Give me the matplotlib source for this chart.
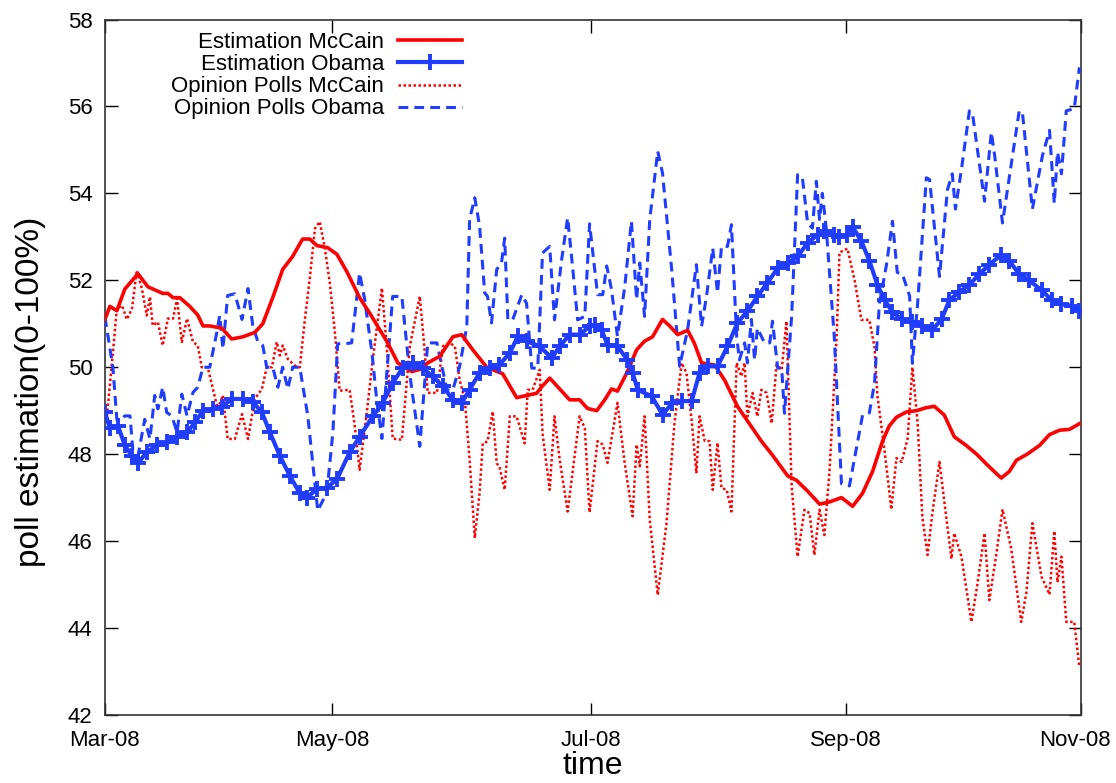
# poll estimation vs opinion polls, McCain / Obama 2008
import numpy as np
import matplotlib
matplotlib.use('Agg')
import matplotlib.pyplot as plt
from matplotlib.transforms import ScaledTranslation

plt.rcParams['font.family'] = ['Liberation Sans Narrow', 'Liberation Sans', 'DejaVu Sans']

# x values are days since 1 Mar 2008
est_mccain_day = [0, 1.25, 3.0, 5.0, 8.3, 10.8, 14.5, 15.8, 17.1, 18.8, 21.3, 23.3, 24.6, 26.3, 29.3,
                  31.8, 34.6, 37.6, 39.6, 42.1, 44.6, 47.1, 49.6, 51.4, 53.2, 55.9, 58.2, 60.7, 63.9,
                  66.4, 70.7, 73.5, 77.0, 79.0, 81.0, 84.0, 87.3, 89.5, 92.3, 95.8, 99.8, 103.3,
                  105.8, 108.3, 109.6, 111.6, 114.1, 116.6, 119.1, 121.1, 123.4, 125.4, 127.1, 128.6,
                  131.1, 133.4, 135.4, 137.4, 139.9, 141.7, 143.7, 146.2, 147.9, 149.7, 153.0, 155.5,
                  158.7, 161.7, 164.7, 167.3, 171.3, 173.5, 176.3, 179.3, 181.8, 184.8, 187.6, 190.1,
                  192.6, 195.1, 196.8, 198.6, 201.1, 203.6, 206.1, 208.1, 210.6, 213.1, 216.1, 218.7,
                  221.2, 223.7, 224.9, 226.9, 228.7, 231.4, 234.5, 237.0, 239.5, 242.0, 244.5]
est_mccain = [51.1, 51.4, 51.3, 51.8, 52.15, 51.85, 51.7, 51.7, 51.6, 51.6, 51.4, 51.2, 50.95, 50.95,
              50.9, 50.65, 50.7, 50.8, 51.0, 51.6, 52.25, 52.55, 52.95, 52.95, 52.8, 52.75, 52.6,
              52.2, 51.6, 51.25, 50.6, 50.1, 49.9, 49.95, 50.1, 50.25, 50.7, 50.75, 50.4, 50.0,
              49.85, 49.3, 49.35, 49.4, 49.55, 49.75, 49.5, 49.25, 49.25, 49.05, 49.0, 49.25, 49.5,
              49.45, 49.9, 50.4, 50.6, 50.7, 51.1, 50.95, 50.75, 50.85, 50.55, 50.1, 50.05, 49.7,
              49.1, 48.7, 48.3, 48.0, 47.5, 47.4, 47.15, 46.85, 46.9, 47.0, 46.8, 47.1, 47.6, 48.3,
              48.65, 48.85, 48.97, 49.0, 49.07, 49.1, 48.9, 48.4, 48.2, 48.0, 47.77, 47.55, 47.45,
              47.6, 47.86, 48.0, 48.2, 48.45, 48.55, 48.57, 48.7]

est_obama_day = [0, 1.25, 3.3, 5.0, 6.8, 8.3, 10.5, 13.0, 15.5, 18.1, 20.6, 22.6, 24.6, 27.1, 29.3,
                 31.8, 34.6, 37.1, 39.4, 41.4, 43.9, 46.4, 48.9, 50.7, 53.2, 55.7, 58.2, 61.4, 63.9,
                 67.2, 69.7, 72.2, 74.7, 77.2, 79.7, 82.2, 84.8, 87.3, 89.5, 91.5, 94.0, 96.5, 99.0,
                 101.6, 103.6, 105.8, 109.1, 112.1, 114.1, 116.6, 119.1, 121.6, 122.9, 124.6, 126.1,
                 128.6, 131.1, 132.4, 133.7, 137.2, 139.9, 142.4, 144.9, 147.2, 149.2, 151.2, 153.7,
                 156.2, 158.7, 161.2, 163.7, 166.2, 168.8, 171.3, 173.8, 176.3, 178.8, 180.5, 183.0,
                 184.3, 186.1, 187.6, 189.8, 191.8, 193.8, 195.6, 197.6, 199.9, 202.4, 205.1, 207.6,
                 209.9, 211.9, 214.4, 216.9, 219.4, 221.9, 224.9, 226.9, 229.4, 231.9, 235.0, 237.5,
                 240.0, 242.7, 244.5]
est_obama = [48.96, 48.6, 48.65, 48.2, 47.96, 47.8, 48.04, 48.2, 48.27, 48.4, 48.5, 48.73, 49.0,
             49.04, 49.08, 49.27, 49.27, 49.2, 48.96, 48.5, 47.96, 47.5, 47.1, 47.0, 47.2, 47.23,
             47.42, 48.04, 48.4, 48.87, 49.18, 49.64, 49.98, 50.1, 49.98, 49.79, 49.56, 49.25,
             49.18, 49.48, 49.87, 49.98, 50.06, 50.33, 50.71, 50.6, 50.48, 50.21, 50.48, 50.75,
             50.75, 50.94, 50.98, 50.86, 50.52, 50.48, 50.17, 49.87, 49.48, 49.33, 48.91, 49.18,
             49.22, 49.22, 49.87, 50.02, 50.02, 50.48, 51.02, 51.29, 51.63, 51.94, 52.28, 52.4,
             52.55, 52.86, 53.05, 53.13, 53.05, 53.0, 53.05, 53.23, 52.9, 52.45, 51.9, 51.55,
             51.27, 51.1, 51.05, 50.95, 50.86, 51.1, 51.55, 51.73, 51.9, 52.14, 52.36, 52.59,
             52.45, 52.14, 52.0, 51.77, 51.55, 51.45, 51.41, 51.29]

poll_mccain_day = [0.5, 1.8, 3.0, 4.3, 5.5, 6.8, 8.0, 9.3, 10.5, 11.3, 12.0, 13.3, 14.5, 15.8, 17.1,
                   18.1, 19.3, 20.6, 22.1, 23.3, 24.3, 25.8, 27.1, 28.3, 29.6, 30.8, 32.6, 34.4,
                   35.9, 37.6, 39.4, 40.6, 41.9, 43.1, 43.9, 44.6, 45.9, 47.6, 48.9, 50.2, 51.4,
                   52.7, 53.9, 55.2, 56.4, 57.7, 58.9, 61.4, 62.7, 63.9, 65.7, 67.2, 69.5, 70.7,
                   72.2, 74.5, 76.5, 79.0, 80.2, 81.0, 83.3, 84.8, 86.5, 87.8, 89.0, 90.3, 91.5,
                   92.8, 94.0, 94.8, 96.0, 97.3, 98.3, 99.0, 100.3, 101.6, 103.3, 105.3, 106.1,
                   107.3, 109.1, 109.8, 111.6, 112.8, 114.1, 116.1, 119.1, 120.4, 121.6, 123.6,
                   124.9, 126.1, 128.6, 130.4, 132.4, 133.4, 134.2, 135.4, 136.7, 138.7, 140.9,
                   142.9, 144.7, 145.9, 147.2, 148.4, 149.2, 150.5, 151.7, 152.5, 153.7, 154.7,
                   156.0, 157.2, 158.5, 159.7, 160.5, 161.2, 162.5, 163.7, 164.7, 166.0, 167.3,
                   168.5, 169.8, 171.0, 172.3, 173.8, 175.5, 176.8, 178.0, 179.3, 180.5, 181.8,
                   183.6, 184.3, 186.3, 188.1, 189.8, 191.8, 193.1, 193.8, 195.6, 197.3, 198.6,
                   199.9, 201.4, 202.6, 203.9, 205.1, 206.4, 207.6, 209.4, 210.6, 212.4, 213.1,
                   214.9, 217.4, 218.9, 220.7, 221.9, 223.7, 225.2, 227.4, 229.9, 231.2, 232.7,
                   235.0, 237.0, 238.2, 239.0, 240.0, 241.2, 243.2, 244.5]
poll_mccain = [48.88, 50.12, 51.35, 51.42, 51.1, 51.35, 52.23, 51.8, 51.19, 51.62, 50.96, 51.04,
               50.5, 51.12, 51.12, 51.58, 50.58, 51.12, 50.58, 50.5, 50.0, 50.0, 49.5, 49.04,
               49.35, 48.35, 48.35, 48.92, 48.35, 49.27, 49.5, 50.0, 50.0, 50.58, 50.27, 50.5,
               50.19, 50.04, 50.0, 51.12, 52.04, 53.19, 53.35, 52.73, 51.96, 50.81, 49.46, 49.48,
               48.64, 47.64, 48.95, 50.17, 51.82, 50.48, 48.36, 48.33, 50.48, 51.63, 50.41, 49.41,
               49.41, 50.48, 50.56, 50.48, 49.71, 49.25, 47.87, 46.07, 47.1, 48.25, 48.29, 48.98,
               47.79, 47.71, 47.18, 48.87, 48.87, 48.25, 49.48, 49.48, 49.94, 48.48, 47.18, 48.87,
               47.87, 46.68, 48.87, 48.6, 46.66, 48.3, 48.22, 47.8, 49.18, 47.8, 46.57, 48.22,
               47.72, 48.87, 46.49, 44.76, 46.41, 48.71, 50.1, 49.87, 48.79, 47.56, 48.87, 48.3,
               48.3, 47.18, 48.26, 47.22, 47.18, 46.68, 50.1, 49.79, 50.1, 48.87, 49.41, 48.87,
               49.48, 49.41, 48.71, 50.06, 49.94, 51.06, 47.26, 45.64, 46.72, 46.64, 45.68, 46.72,
               46.14, 47.6, 50.73, 52.64, 52.73, 52.0, 51.09, 51.09, 50.45, 49.36, 48.09, 46.73,
               47.91, 47.82, 48.36, 50.0, 48.73, 46.55, 45.68, 46.64, 47.82, 46.91, 45.59, 46.18,
               45.64, 44.14, 45.0, 46.18, 44.64, 45.73, 46.73, 45.82, 44.14, 44.82, 46.41, 45.18,
               44.77, 46.23, 45.05, 45.64, 44.14, 44.14, 43.09]

poll_obama_day = [0, 0.75, 2.0, 3.0, 3.8, 5.0, 6.3, 7.0, 8.3, 10.0, 11.3, 12.5, 13.3, 14.5, 15.5,
                  16.8, 18.1, 19.3, 20.6, 22.1, 23.3, 24.6, 26.3, 28.1, 28.8, 29.6, 30.8, 32.6,
                  34.4, 35.9, 37.1, 38.4, 39.6, 40.6, 42.1, 43.4, 44.6, 45.9, 47.1, 48.9, 50.9,
                  53.4, 55.7, 57.2, 58.4, 60.2, 61.9, 63.9, 65.2, 67.0, 68.2, 69.5, 70.7, 72.2,
                  74.5, 76.5, 79.0, 81.0, 83.3, 85.8, 87.3, 89.0, 90.8, 91.5, 92.8, 94.0, 95.3,
                  96.0, 97.0, 98.3, 99.5, 100.3, 101.1, 102.3, 104.6, 105.8, 107.1, 108.6, 109.8,
                  111.6, 112.8, 114.6, 116.1, 117.4, 118.6, 120.4, 121.6, 123.6, 124.9, 125.9,
                  127.1, 128.6, 130.4, 132.1, 133.4, 134.2, 135.4, 136.7, 138.7, 139.9, 142.2,
                  144.2, 146.2, 148.4, 149.7, 151.0, 152.5, 153.7, 154.7, 156.2, 157.2, 158.5,
                  159.2, 160.5, 161.2, 162.2, 163.0, 163.7, 165.5, 166.8, 167.5, 168.8, 169.8,
                  170.5, 172.3, 173.8, 175.0, 176.3, 177.5, 178.5, 179.3, 180.0, 181.0, 183.0,
                  184.8, 186.8, 190.1, 191.8, 193.1, 194.3, 196.1, 197.6, 198.8, 200.1, 201.9,
                  202.6, 203.9, 206.1, 206.9, 209.4, 211.4, 212.6, 213.4, 214.9, 216.9, 217.7,
                  220.7, 222.4, 223.2, 225.2, 229.4, 230.2, 232.7, 235.2, 237.0, 238.2, 239.0,
                  240.0, 241.2, 243.2, 244.5]
poll_obama = [51.15, 50.73, 50.0, 48.8, 48.77, 48.88, 48.88, 48.1, 47.96, 48.8, 48.35, 49.35,
              49.04, 49.54, 48.96, 48.88, 48.5, 49.38, 48.88, 49.42, 49.54, 50.0, 50.0, 50.81,
              51.19, 50.42, 51.65, 51.69, 51.1, 51.81, 50.96, 50.58, 50.5, 50.0, 50.0, 49.54,
              50.0, 49.5, 50.0, 50.0, 48.88, 46.7, 47.12, 48.5, 50.54, 50.54, 50.56, 52.17,
              51.55, 50.33, 49.25, 48.36, 49.83, 51.63, 51.63, 49.83, 48.18, 50.56, 50.56, 49.48,
              49.48, 50.02, 50.94, 53.4, 53.9, 53.25, 51.71, 51.63, 51.02, 52.25, 52.4, 52.97,
              51.09, 51.09, 51.67, 51.47, 49.98, 49.98, 52.63, 52.78, 51.09, 52.48, 53.44, 52.25,
              51.09, 51.17, 53.3, 51.67, 51.67, 52.33, 51.79, 50.71, 51.83, 53.36, 51.56, 52.4,
              51.17, 53.4, 54.97, 54.47, 52.25, 50.02, 50.86, 52.36, 50.94, 51.67, 52.74, 51.71,
              52.78, 52.78, 53.28, 50.71, 50.17, 50.56, 50.1, 51.1, 50.17, 50.9, 50.56, 50.56,
              51.06, 49.98, 49.98, 48.94, 51.17, 54.43, 54.36, 53.32, 53.2, 54.28, 53.4, 54.0,
              53.17, 50.7, 47.32, 47.27, 48.9, 48.95, 49.64, 51.45, 52.36, 53.36, 52.18, 52.14,
              51.64, 50.09, 51.45, 54.36, 54.32, 52.09, 54.09, 54.45, 53.64, 54.55, 55.9, 55.82,
              53.82, 55.41, 54.9, 53.32, 55.9, 55.86, 53.64, 54.86, 55.45, 53.77, 54.95, 54.45,
              55.9, 55.95, 56.9]

tick_days = [0, 57, 122, 186, 245]
tick_labels = ['Mar-08', 'May-08', 'Jul-08', 'Sep-08', 'Nov-08']

red = '#ff0000'
blue = '#1f3cff'

fig = plt.figure(figsize=(11.16, 7.83), dpi=100)
ax = fig.add_axes([0.094, 0.087, 0.875, 0.888])

ax.plot(est_mccain_day, est_mccain, color=red, lw=2.6, label='Estimation McCain', zorder=4)
ax.plot(est_obama_day, est_obama, color=blue, lw=3, marker='+', ms=12, mew=2.8,
        label='Estimation Obama', zorder=5)
ax.plot(poll_mccain_day, poll_mccain, color=red, lw=1.8, ls=(0, (1, 1)),
        label='Opinion Polls McCain', zorder=3)
ax.plot(poll_obama_day, poll_obama, color=blue, lw=2.2, ls=(0, (3.2, 2)),
        label='Opinion Polls Obama', zorder=3)

ax.set_xlim(0, 245)
ax.set_ylim(42, 58)
ax.set_yticks(np.arange(42, 59, 2))
ax.set_xticks(tick_days)
ax.set_xticklabels(tick_labels)
ax.tick_params(direction='in', length=9, width=1, top=True, right=True, labelsize=16)
ax.tick_params(axis='x', pad=11)
ax.tick_params(axis='y', pad=9)
for s in ax.spines.values():
    s.set_linewidth(1.2)
    s.set_color('#333333')

# last date label sits at the right edge, nudge it inward a little
last = ax.get_xticklabels()[-1]
last.set_transform(last.get_transform() + ScaledTranslation(-6 / 100, 0, fig.dpi_scale_trans))

ax.set_xlabel('time', fontsize=23, labelpad=0)
ax.set_ylabel('poll estimation(0-100%)', fontsize=24)
ax.yaxis.set_label_coords(-0.06, 0.465)

leg = ax.legend(loc='upper left', bbox_to_anchor=(0.068, 0.982), markerfirst=False, frameon=False,
                fontsize=16, handlelength=2.9, handletextpad=0.6, labelspacing=0.05,
                borderpad=0, borderaxespad=0)

fig.savefig('out.png', dpi=100)
